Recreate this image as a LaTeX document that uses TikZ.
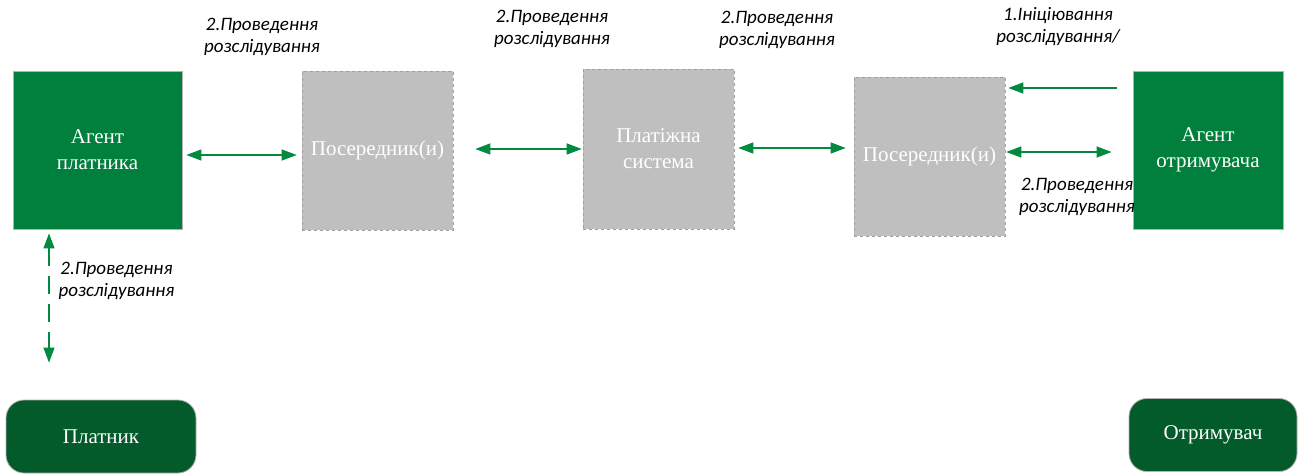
\documentclass[tikz,border=0pt]{standalone}
\usepackage{fontspec}
\setmainfont{Liberation Serif}
\newfontfamily\lblfont{Carlito}
\usetikzlibrary{arrows.meta}
\definecolor{agentgreen}{HTML}{00803C}
\definecolor{darkgreen}{HTML}{035A2B}
\definecolor{boxgray}{HTML}{BFBFBF}
\definecolor{linkgreen}{HTML}{038A3F}

\begin{document}
\begin{tikzpicture}[x=1pt, y=-1pt,
    agent/.style={draw=gray!60, line width=0.8pt, fill=agentgreen, text=white, align=center,
        inner sep=0, minimum width=169pt, minimum height=158pt, font=\fontsize{21}{26}\selectfont},
    middle/.style={draw=gray!75, dashed, line width=0.6pt, fill=boxgray, text=white, align=center,
        inner sep=0, minimum width=151pt, minimum height=159pt, font=\fontsize{21}{26}\selectfont},
    party/.style={draw=gray!60, line width=0.8pt, fill=darkgreen, text=white, rounded corners=18pt,
        inner sep=0, minimum height=73pt, font=\fontsize{21}{26}\selectfont},
    step label/.style={align=center, font=\lblfont\itshape\fontsize{19}{22}\selectfont},
    link/.style={linkgreen, line width=1.2pt, {Triangle[length=15pt,width=11pt]}-{Triangle[length=15pt,width=11pt]}}
]
    \useasboundingbox (0,0) rectangle (1303,474);

    % Вузли
    \node[agent] (ap) at (97.5,150) {Агент\\платника};
    \node[middle] (p1) at (377.5,150.5) {Посередник(и)};
    \node[middle, minimum height=160pt] (ps) at (658.5,149) {Платіжна\\система};
    \node[middle] (p2) at (929.5,156.5) {Посередник(и)};
    \node[agent, minimum width=150pt] (ar) at (1208,150) {Агент\\отримувача};
    \node[party, minimum width=190pt] (pl) at (101,436.5) {Платник};
    \node[party, minimum width=168pt] (ot) at (1213,435) {Отримувач};

    % Стрілки
    \draw[link, shorten <=4pt, shorten >=5pt] ([yshift=-5pt]ap.east) -- ([yshift=-5pt]ap.east -| p1.west);
    \draw[link, shorten <=22pt, shorten >=1pt] ([yshift=1.5pt]p1.east) -- ([yshift=1.5pt]p1.east -| ps.west);
    \draw[link, shorten <=4pt, shorten >=8pt] ([yshift=1pt]ps.east) -- ([yshift=1pt]ps.east -| p2.west);
    \draw[link, -{Triangle[length=15pt,width=11pt]}, shorten <=16pt, shorten >=3pt] ([yshift=62pt]ar.west) -- ([yshift=62pt]ar.west -| p2.east);
    \draw[link, shorten <=1pt, shorten >=21pt] ([yshift=4.5pt]p2.east) -- ([yshift=4.5pt]p2.east -| ar.west);
    \draw[link, dash pattern=on 18pt off 10pt, shorten <=4pt, shorten >=37pt] ([xshift=-48.5pt]ap.south) -- ([xshift=-48.5pt]ap.south |- pl.north);

    % Підписи
    \node[step label] (l1) at (262,37) {2.Проведення\\розслідування};
    \node[step label] (l2) at (552,29) {2.Проведення\\розслідування};
    \node[step label] (l3) at (777,30) {2.Проведення\\розслідування};
    \node[step label] (l4) at (1058,27) {1.Ініціювання\\розслідування/};
    \node[step label] (l5) at (1077,197) {2.Проведення\\розслідування};
    \node[step label, anchor=west] (l6) at (55,281) {2.Проведення\\розслідування};
\end{tikzpicture}
\end{document}
